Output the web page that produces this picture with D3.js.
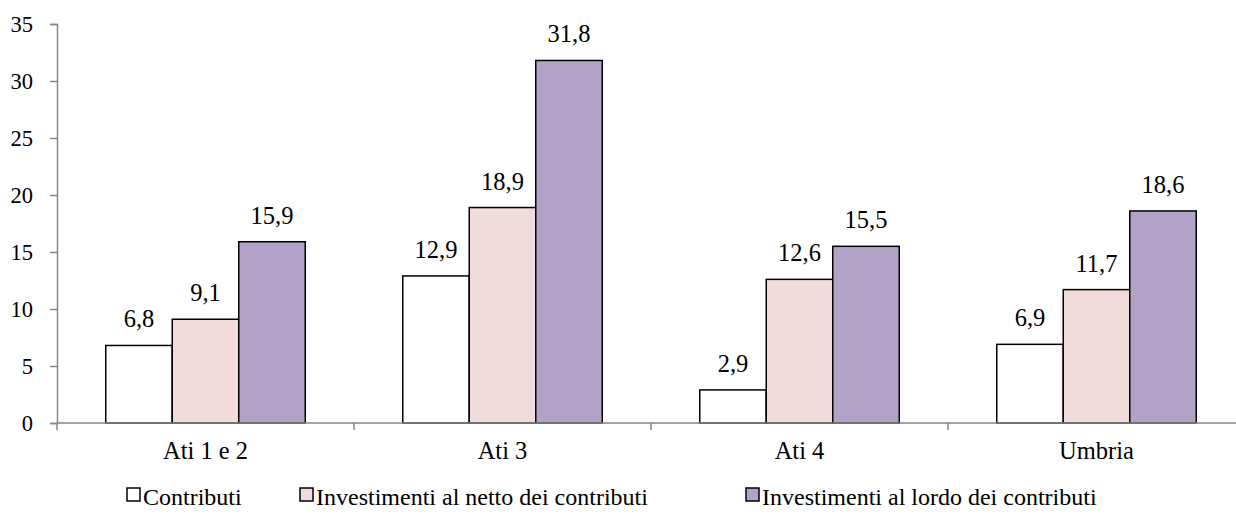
<!DOCTYPE html>
<html>
<head>
<meta charset="utf-8">
<script src="https://cdn.jsdelivr.net/npm/d3@7"></script>
<style>
  html, body { margin: 0; padding: 0; background: #fff; overflow: hidden; }
  svg { display: block; }
</style>
</head>
<body>
<svg id="chart" width="1236" height="518"></svg>
<script>
// Categories, series and tick values
const categories = ["Ati 1 e 2", "Ati 3", "Ati 4", "Umbria"];
const seriesNames = [
  "Contributi",
  "Investimenti al netto dei contributi",
  "Investimenti al lordo dei contributi"
];
const contributi = [6.8, 12.9, 2.9, 6.9];
const nettoContributi = [9.1, 18.9, 12.6, 11.7];
const lordoContributi = [15.9, 31.8, 15.5, 18.6];
const yTicks = [0, 5, 10, 15, 20, 25, 30, 35];
const seriesColors = ["#ffffff", "#f2dcdb", "#b3a2c7"];

const seriesValues = [contributi, nettoContributi, lordoContributi];

const svg = d3.select("#chart");
const plotLeft = 57, plotRight = 1245, plotTop = 24, plotBottom = 423;
const FONT = "Liberation Serif";

const x = d3.scaleBand().domain(categories).range([plotLeft, plotRight]).paddingInner(0).paddingOuter(0);
const inner = d3.scaleBand().domain(d3.range(seriesNames.length))
  .range([0, x.bandwidth()]).paddingInner(0).paddingOuter(0.733);
const y = d3.scaleLinear().domain([0, 35]).range([plotBottom, plotTop]);

const fmt = v => v.toFixed(1).replace(".", ",");
const axisColor = "#868686";

// Bars with value labels
categories.forEach((cat, ci) => {
  const g = svg.append("g").attr("transform", `translate(${x(cat)},0)`);
  seriesValues.forEach((vals, si) => {
    const v = vals[ci];
    g.append("rect")
      .attr("x", inner(si))
      .attr("y", y(v))
      .attr("width", inner.bandwidth())
      .attr("height", y(0) - y(v))
      .attr("fill", seriesColors[si])
      .attr("stroke", "#000")
      .attr("stroke-width", 1.5);
    g.append("text")
      .attr("x", inner(si) + inner.bandwidth() / 2)
      .attr("y", y(v) - 18)
      .attr("text-anchor", "middle")
      .style("font-family", FONT)
      .style("font-size", "24.5px")
      .attr("fill", "#000")
      .text(fmt(v));
  });
});

// Y axis
const yAxis = d3.axisLeft(y).tickValues(yTicks).tickSize(7).tickPadding(17).tickFormat(d3.format("d"));
const yg = svg.append("g").attr("transform", `translate(${plotLeft},0)`).call(yAxis);
yg.select(".domain").attr("stroke", axisColor).attr("stroke-width", 1.5);
yg.selectAll(".tick line").attr("stroke", axisColor).attr("stroke-width", 1.5);
yg.selectAll(".tick text")
  .style("font-family", FONT).style("font-size", "22.5px").attr("fill", "#000");

// X axis with tick marks at category boundaries
const xg = svg.append("g").attr("transform", `translate(0,${plotBottom})`);
xg.append("line").attr("x1", plotLeft).attr("x2", plotRight).attr("y1", 0).attr("y2", 0)
  .attr("stroke", axisColor).attr("stroke-width", 1.5);
const bounds = categories.map(c => x(c)).concat([plotRight]);
xg.selectAll("line.tk").data(bounds).enter().append("line").attr("class", "tk")
  .attr("x1", d => d).attr("x2", d => d).attr("y1", 0).attr("y2", 7)
  .attr("stroke", axisColor).attr("stroke-width", 1.5);
xg.selectAll("text").data(categories).enter().append("text")
  .attr("x", d => x(d) + x.bandwidth() / 2)
  .attr("y", 36)
  .attr("text-anchor", "middle")
  .style("font-family", FONT)
  .style("font-size", "24.5px")
  .attr("fill", "#000")
  .text(d => d);

// Legend
const legendX = [127, 300, 746];
const lg = svg.append("g");
seriesNames.forEach((name, i) => {
  lg.append("rect")
    .attr("x", legendX[i]).attr("y", 488)
    .attr("width", 13).attr("height", 13)
    .attr("fill", seriesColors[i]).attr("stroke", "#000").attr("stroke-width", 1.5);
  lg.append("text")
    .attr("x", legendX[i] + 16).attr("y", 505)
    .style("font-family", FONT)
    .style("font-size", "24px").attr("fill", "#000")
    .text(name);
});
</script>
</body>
</html>
